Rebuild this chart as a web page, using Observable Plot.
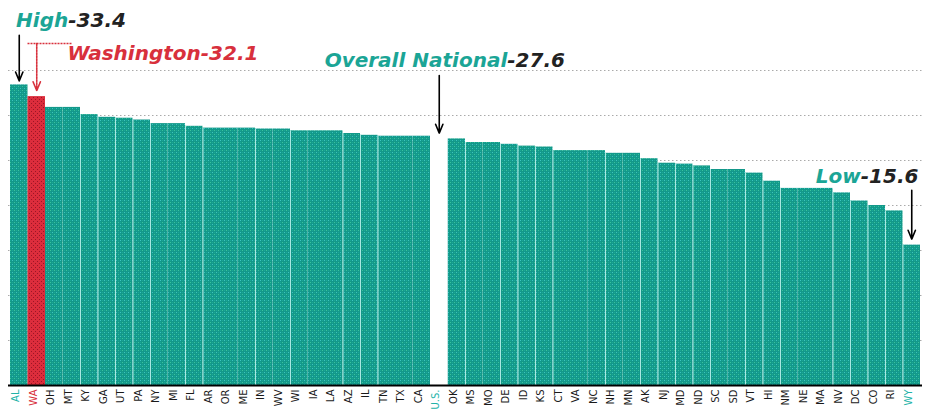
<!DOCTYPE html>
<html><head><meta charset="utf-8">
<script src="https://cdn.jsdelivr.net/npm/d3@7"></script>
<script src="https://cdn.jsdelivr.net/npm/@observablehq/plot@0.6"></script>
<style>body{margin:0;background:#fff}svg{display:block}</style>
</head><body><div id="chart"></div>
<script>
const states = ["AL","WA","OH","MT","KY","GA","UT","PA","NY","MI","FL","AR","OR","ME","IN","WV","WI","IA","LA","AZ","IL","TN","TX","CA","U.S.","OK","MS","MO","DE","ID","KS","CT","VA","NC","NH","MN","AK","NJ","MD","ND","SC","SD","VT","HI","NM","NE","MA","NV","DC","CO","RI","WY"];
const values = [33.4,32.1,30.9,30.9,30.1,29.8,29.7,29.5,29.1,29.1,28.8,28.6,28.6,28.6,28.5,28.5,28.3,28.3,28.3,28.0,27.8,27.7,27.7,27.7,27.6,27.4,27.0,27.0,26.8,26.6,26.5,26.1,26.1,26.1,25.8,25.8,25.2,24.7,24.6,24.4,24.0,24.0,23.6,22.7,21.9,21.9,21.9,21.4,20.5,20.0,19.4,15.6];
const gridValues = [5,10,15,20,25,30,35];
const annoNames = ["High","Washington","Overall National","Low"];
const annoStates = ["AL","WA","U.S.","WY"];
const annoValues = [33.4,32.1,27.6,15.6];

const TEAL = "#1ba596", RED = "#d8303c", DARK = "#222";
const rows = states.map((s, i) => ({state: s, value: values[i]}));
const annos = annoNames.map((n, i) => ({name: n, state: annoStates[i], value: annoValues[i]}));

// layout (pixel offsets / arrow geometry) per annotation
const layout = {
  "High": {dx: 49, dy: -64, rise: 5.5, inset: 4, nameColor: TEAL, numColor: DARK, arrow: "black", dash: null},
  "Washington": {dx: 164, dy: -43, rise: 5.9, inset: 6, nameColor: RED, numColor: RED, arrow: RED, dash: "2,1"},
  "Overall National": {dx: 68, dy: -77, rise: 6.85, inset: 4, nameColor: TEAL, numColor: DARK, arrow: "black", dash: null},
  "Low": {dx: -51, dy: -69, rise: 6.1, inset: 6, nameColor: TEAL, numColor: DARK, arrow: "black", dash: null}
};

// separators between bars whose values differ
const seps = rows.filter((d, i) => i > 0 && d.value !== rows[i-1].value && d.state !== "U.S." && rows[i-1].state !== "U.S." && d.state !== "WA" && rows[i-1].state !== "WA");

const font = {fontFamily: "Verdana, 'DejaVu Sans', sans-serif", fontWeight: "bold", fontStyle: "italic", fontSize: 20};

const annoMarks = [];
for (const a of annos) {
  const L = layout[a.name];
  const one = [a];
  annoMarks.push(
    Plot.text(one, {x: "state", y: "value", text: d => d.name, textAnchor: "end", dx: L.dx, dy: L.dy, fill: L.nameColor, ...font}),
    Plot.text(one, {x: "state", y: "value", text: d => "-" + d.value.toFixed(1), textAnchor: "start", dx: L.dx, dy: L.dy, fill: L.numColor, ...font}),
    Plot.arrow(one, {x1: "state", x2: "state", y1: d => d.value + L.rise, y2: "value", insetEnd: L.inset, stroke: L.arrow, strokeWidth: 1.6, headLength: 9, headAngle: 45, strokeDasharray: L.dash})
  );
  if (a.name === "Washington") {
    annoMarks.push(Plot.ruleY(one, {x1: "state", x2: () => "OH", y: d => d.value + L.rise, insetRight: -9, stroke: RED, strokeWidth: 1.6, strokeDasharray: L.dash}));
  }
}

const chart = Plot.plot({
  width: 925, height: 419,
  marginTop: 70, marginBottom: 34, marginLeft: 10, marginRight: 5,
  x: {domain: states, padding: 0, round: false, axis: null},
  y: {domain: [0, 35], axis: null},
  marks: [
    Plot.ruleY(gridValues, {stroke: "#aaa", strokeDasharray: "1.5,2.5", insetLeft: -2, insetRight: -2}),
    Plot.barY(rows.filter(d => d.state !== "WA" && d.state !== "U.S."), {x: "state", y: "value", fill: "url(#tealPat)", inset: 0}),
    Plot.barY(rows.filter(d => d.state === "WA"), {x: "state", y: "value", fill: "url(#redPat)", inset: 0}),
    Plot.barY(rows.filter(d => d.state === "U.S."), {x: "state", y: "value", fill: "white", inset: 0}),
    Plot.ruleX(seps, {x: "state", y1: 0, y2: "value", dx: -8.75, stroke: "#a9e8e2", strokeWidth: 1}),
    Plot.ruleY([0], {stroke: "black", strokeWidth: 2.2, insetLeft: -2, insetRight: -2}),
    Plot.text(rows, {x: "state", frameAnchor: "bottom", text: "state", rotate: -90, textAnchor: "end", dy: 4,
      fill: d => d.state === "WA" ? RED : (["AL","U.S.","WY"].includes(d.state) ? "#22b3a8" : "#1a1a1a"),
      fontSize: 10, fontFamily: "Verdana, 'DejaVu Sans', sans-serif"}),
    ...annoMarks
  ],
  color: {type: "identity"}
});

const ns = "http://www.w3.org/2000/svg";
const defs = document.createElementNS(ns, "defs");
defs.innerHTML = `
<pattern id="tealPat" width="4" height="4" patternUnits="userSpaceOnUse">
  <rect width="4" height="4" fill="#13988a"/>
  <rect x="0" y="0" width="1" height="1" fill="#3cc3c0"/>
  <rect x="2" y="2" width="1" height="1" fill="#3bc39a"/>
  <rect x="2" y="0" width="1" height="1" fill="#1aa896"/>
  <rect x="0" y="2" width="1" height="1" fill="#1aa896"/>
</pattern>
<pattern id="redPat" width="4" height="4" patternUnits="userSpaceOnUse">
  <rect width="4" height="4" fill="#dc2d3c"/>
  <rect x="1" y="1" width="1" height="1" fill="#9c1526"/>
  <rect x="3" y="3" width="1" height="1" fill="#9c1526"/>
</pattern>`;
chart.insertBefore(defs, chart.firstChild);
document.getElementById("chart").appendChild(chart);
</script>
</body></html>
